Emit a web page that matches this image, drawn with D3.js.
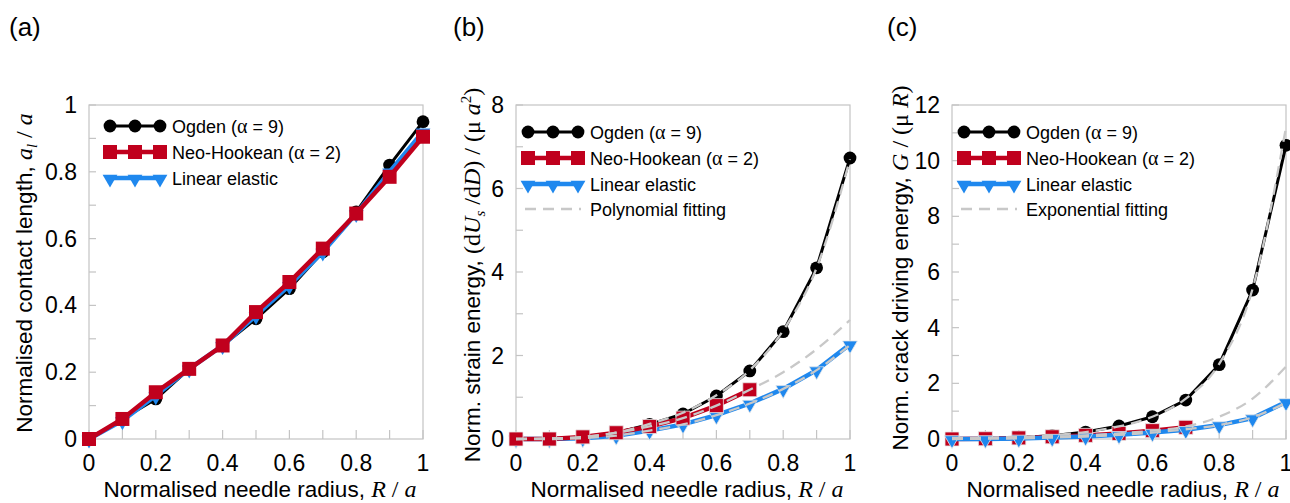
<!DOCTYPE html>
<html><head><meta charset="utf-8">
<script src="https://cdn.jsdelivr.net/npm/d3@7"></script>
<style>
html,body{margin:0;padding:0;background:#fff;}
svg{display:block;font-family:Arial,"Liberation Sans",sans-serif;}
</style></head>
<body><svg id="chart" width="1290" height="503"></svg>
<script>
// ---------- data ----------
const radius = [0,0.1,0.2,0.3,0.4,0.5,0.6,0.7,0.8,0.9,1.0];
const radiusNeo = [0,0.1,0.2,0.3,0.4,0.5,0.6,0.7];

// (a) normalised contact length
const contactOgden  = [0,0.06,0.12,0.21,0.28,0.36,0.45,0.56,0.68,0.82,0.95];
const contactNeo    = [0,0.06,0.14,0.21,0.28,0.38,0.47,0.57,0.675,0.785,0.905];
const contactLinear = [0,0.055,0.13,0.21,0.28,0.37,0.46,0.56,0.675,0.80,0.92];

// (b) normalised strain energy
const strainOgden  = [0,0.0,0.05,0.15,0.35,0.6,1.03,1.63,2.57,4.1,6.73];
const strainNeo    = [0,0.0,0.05,0.15,0.3,0.5,0.8,1.18];
const strainLinear = [0,0,0.02,0.08,0.2,0.35,0.57,0.85,1.2,1.65,2.27];
const strainFitOgden  = [0,0.01,0.05,0.15,0.36,0.63,1.05,1.65,2.6,4.1,6.7];
const strainFitNeo    = [0,0.01,0.05,0.15,0.3,0.5,0.8,1.18,1.6,2.15,2.85];
const strainFitLinear = [0,0,0.02,0.08,0.2,0.35,0.57,0.85,1.2,1.65,2.25];

// (c) normalised crack driving energy
const crackOgden  = [0,0.02,0.05,0.12,0.25,0.47,0.8,1.4,2.67,5.35,10.55];
const crackNeo    = [0,0.01,0.04,0.08,0.13,0.2,0.3,0.42];
const crackLinear = [0,0.0,0.02,0.05,0.09,0.15,0.23,0.33,0.5,0.75,1.33];
const crackFitOgden  = [0.04,0.05,0.08,0.14,0.25,0.45,0.8,1.45,2.7,5.4,11.2];
const crackFitNeo    = [0.02,0.03,0.05,0.08,0.13,0.2,0.3,0.45,0.8,1.45,2.6];
const crackFitLinear = [0,0.01,0.02,0.05,0.09,0.15,0.23,0.35,0.5,0.78,1.3];

const xTicks = [0,0.2,0.4,0.6,0.8,1];
const xMinor = [0,0.1,0.2,0.3,0.4,0.5,0.6,0.7,0.8,0.9,1];
const yTicksA = [0,0.2,0.4,0.6,0.8,1];
const yMinorA = [0,0.1,0.2,0.3,0.4,0.5,0.6,0.7,0.8,0.9,1];
const yTicksB = [0,2,4,6,8];
const yMinorB = [0,1,2,3,4,5,6,7,8];
const yTicksC = [0,2,4,6,8,10,12];
const yMinorC = [0,1,2,3,4,5,6,7,8,9,10,11,12];

const legendNames = ["Ogden (α = 9)","Neo-Hookean (α = 2)","Linear elastic"];
const panelLabels = ["(a)","(b)","(c)"];

// ---------- styles ----------
const C_OGDEN = "#000000", C_NEO = "#c0001d", C_LIN = "#1f88ee", C_FIT = "#c8c8c8", C_FRAME = "#c4c4c4";
const SERIF = "'Liberation Serif','Times New Roman',serif";

const svg = d3.select("#chart");
const Y0 = 105, Y1 = 439;

function zip(xs, ys){ return xs.map((x,i)=>[x, ys[i]]); }

function drawPanel(cfg){
  const x = d3.scaleLinear().domain([0,1]).range([cfg.x0, cfg.x0+334]);
  const y = d3.scaleLinear().domain([0,cfg.ymax]).range([Y1, Y0]);
  const g = svg.append("g");

  g.append("rect").attr("x",x(0)).attr("y",y(cfg.ymax)).attr("width",x(1)-x(0)).attr("height",y(0)-y(cfg.ymax))
    .attr("fill","none").attr("stroke",C_FRAME).attr("stroke-width",1.2);
  g.selectAll(".xt").data(xMinor).join("line")
    .attr("x1",d=>x(d)).attr("x2",d=>x(d)).attr("y1",Y1).attr("y2",Y1-9)
    .attr("stroke",C_FRAME).attr("stroke-width",1.2);
  g.selectAll(".yt").data(cfg.yMinor).join("line")
    .attr("x1",x(0)).attr("x2",x(0)+7).attr("y1",d=>y(d)).attr("y2",d=>y(d))
    .attr("stroke",C_FRAME).attr("stroke-width",1.2);
  const fmt = d=> (d===0?"0":String(d));
  g.selectAll(".xl").data(xTicks).join("text")
    .attr("x",d=>x(d)).attr("y",471).attr("text-anchor","middle")
    .attr("font-size",23).attr("fill","#000").text(fmt);
  g.selectAll(".yl").data(cfg.yTicks).join("text")
    .attr("x",x(0)-12).attr("y",d=>y(d)+8).attr("text-anchor","end")
    .attr("font-size",23).attr("fill","#000").text(fmt);

  const xt = g.append("text").attr("x",(x(0)+x(1))/2+4).attr("y",497).attr("text-anchor","middle").attr("font-size",22.5);
  xt.append("tspan").text("Normalised needle radius, ");
  xt.append("tspan").attr("font-family",SERIF).attr("font-style","italic").attr("font-size",24).text("R");
  xt.append("tspan").attr("font-family",SERIF).attr("font-size",24).text(" / ");
  xt.append("tspan").attr("font-family",SERIF).attr("font-style","italic").attr("font-size",24).text("a");

  const yt = g.append("text").attr("transform",`translate(${cfg.ytx},${cfg.yty}) rotate(-90)`)
    .attr("text-anchor","middle").attr("font-size",22.5);
  cfg.yTitle(yt);

  svg.append("text").attr("x",cfg.lx).attr("y",36).attr("font-size",26).text(cfg.label);

  const line = d3.line().x(d=>x(d[0])).y(d=>y(d[1]));
  const smooth = d3.line().x(d=>x(d[0])).y(d=>y(d[1])).curve(d3.curveMonotoneX);
  const sq = d3.symbol().type(d3.symbolSquare).size(196);
  const tri = d3.symbol().type(d3.symbolTriangle).size(95);

  const series = {
    ogden: ()=>{
      g.append("path").attr("d",line(cfg.ogden)).attr("fill","none").attr("stroke",C_OGDEN).attr("stroke-width",3);
      g.selectAll(".co").data(cfg.ogden).join("circle").attr("cx",d=>x(d[0])).attr("cy",d=>y(d[1])).attr("r",6.4).attr("fill",C_OGDEN);
    },
    neo: ()=>{
      g.append("path").attr("d",line(cfg.neo)).attr("fill","none").attr("stroke",C_NEO).attr("stroke-width",4.5);
      g.selectAll(".cn").data(cfg.neo).join("path").attr("d",sq).attr("transform",d=>`translate(${x(d[0])},${y(d[1])})`)
        .attr("fill",C_NEO).attr("stroke",cfg.mstroke||"none").attr("stroke-width",0.8);
    },
    lin: ()=>{
      g.append("path").attr("d",line(cfg.lin)).attr("fill","none").attr("stroke",C_LIN).attr("stroke-width",4.5);
      g.selectAll(".cl").data(cfg.lin).join("path").attr("d",tri).attr("transform",d=>`translate(${x(d[0])},${y(d[1])+1}) rotate(180)`)
        .attr("fill",C_LIN).attr("stroke",cfg.mstroke||"none").attr("stroke-width",0.8);
    }
  };
  cfg.order.forEach(k=>series[k]());

  if (cfg.fits){
    cfg.fits.forEach(f=>{
      g.append("path").attr("d",smooth(f)).attr("fill","none").attr("stroke",C_FIT)
        .attr("stroke-width",2.3).attr("stroke-dasharray","11,7");
    });
  }

  const lg = g.append("g");
  const lx0 = cfg.legX, lx1 = cfg.legX+50, tx = cfg.legX+62;
  const rows = cfg.legRows;
  lg.append("line").attr("x1",lx0).attr("x2",lx1).attr("y1",rows[0]).attr("y2",rows[0]).attr("stroke",C_OGDEN).attr("stroke-width",3);
  [lx0,(lx0+lx1)/2,lx1].forEach(px=>lg.append("circle").attr("cx",px).attr("cy",rows[0]).attr("r",6.4).attr("fill",C_OGDEN));
  lg.append("line").attr("x1",lx0).attr("x2",lx1).attr("y1",rows[1]).attr("y2",rows[1]).attr("stroke",C_NEO).attr("stroke-width",4.5);
  [lx0,(lx0+lx1)/2,lx1].forEach(px=>lg.append("path").attr("d",sq).attr("transform",`translate(${px},${rows[1]})`).attr("fill",C_NEO));
  lg.append("line").attr("x1",lx0).attr("x2",lx1).attr("y1",rows[2]).attr("y2",rows[2]).attr("stroke",C_LIN).attr("stroke-width",4.5);
  [lx0,(lx0+lx1)/2,lx1].forEach(px=>lg.append("path").attr("d",tri).attr("transform",`translate(${px},${rows[2]+1}) rotate(180)`).attr("fill",C_LIN));
  const names = legendNames.slice();
  if (cfg.fitName){
    lg.append("line").attr("x1",lx0-3).attr("x2",lx1+3).attr("y1",rows[3]).attr("y2",rows[3]).attr("stroke",C_FIT)
      .attr("stroke-width",2.3).attr("stroke-dasharray","11,7");
    names.push(cfg.fitName);
  }
  names.forEach((n,i)=>{
    const t = lg.append("text").attr("x",tx).attr("y",rows[i]+6.5).attr("font-size",18);
    const parts = n.split("α");
    t.append("tspan").text(parts[0]);
    if (parts.length>1){
      t.append("tspan").attr("font-family",SERIF).attr("font-size",20).text("α");
      t.append("tspan").text(parts[1]);
    }
  });
}

drawPanel({
  x0:89, ymax:1, yTicks:yTicksA, yMinor:yMinorA, label:panelLabels[0], lx:9,
  ytx:32, yty:273,
  yTitle: t=>{
    t.append("tspan").text("Normalised contact length, ");
    t.append("tspan").attr("font-family",SERIF).attr("font-style","italic").attr("font-size",24).text("a");
    t.append("tspan").attr("font-family",SERIF).attr("font-style","italic").attr("font-size",15).attr("dy",5).text("l");
    t.append("tspan").attr("font-family",SERIF).attr("font-size",24).attr("dy",-5).text(" / ");
    t.append("tspan").attr("font-family",SERIF).attr("font-style","italic").attr("font-size",24).text("a");
  },
  ogden: zip(radius,contactOgden), neo: zip(radius,contactNeo), lin: zip(radius,contactLinear),
  order:["ogden","lin","neo"],
  legX:110, legRows:[126,152,178]
});

drawPanel({
  x0:516, ymax:8, yTicks:yTicksB, yMinor:yMinorB, label:panelLabels[1], lx:453,
  ytx:480, yty:275,
  yTitle: t=>{
    t.append("tspan").text("Norm. strain energy, ");
    t.append("tspan").attr("font-family",SERIF).attr("font-size",24).text("(d");
    t.append("tspan").attr("font-family",SERIF).attr("font-style","italic").attr("font-size",24).text("U");
    t.append("tspan").attr("font-family",SERIF).attr("font-style","italic").attr("font-size",15).attr("dy",5).text("s");
    t.append("tspan").attr("font-family",SERIF).attr("font-size",24).attr("dy",-5).text(" /d");
    t.append("tspan").attr("font-family",SERIF).attr("font-style","italic").attr("font-size",24).text("D");
    t.append("tspan").attr("font-family",SERIF).attr("font-size",24).text(") / (μ ");
    t.append("tspan").attr("font-family",SERIF).attr("font-style","italic").attr("font-size",24).text("a");
    t.append("tspan").attr("font-family",SERIF).attr("font-size",15).attr("dy",-9).text("2");
    t.append("tspan").attr("font-family",SERIF).attr("font-size",24).attr("dy",9).text(")");
  },
  ogden: zip(radius,strainOgden), neo: zip(radiusNeo,strainNeo), lin: zip(radius,strainLinear),
  order:["ogden","lin","neo"], mstroke:"#e8e8e8",
  fits:[zip(radius,strainFitOgden), zip(radius,strainFitNeo), zip(radius,strainFitLinear)],
  fitName:"Polynomial fitting",
  legX:528, legRows:[132,158,184,209]
});

drawPanel({
  x0:952, ymax:12, yTicks:yTicksC, yMinor:yMinorC, label:panelLabels[2], lx:887,
  ytx:908, yty:268,
  yTitle: t=>{
    t.append("tspan").text("Norm. crack driving energy, ");
    t.append("tspan").attr("font-family",SERIF).attr("font-style","italic").attr("font-size",24).text("G");
    t.append("tspan").attr("font-family",SERIF).attr("font-size",24).text(" / (μ ");
    t.append("tspan").attr("font-family",SERIF).attr("font-style","italic").attr("font-size",24).text("R");
    t.append("tspan").attr("font-family",SERIF).attr("font-size",24).text(")");
  },
  ogden: zip(radius,crackOgden), neo: zip(radiusNeo,crackNeo), lin: zip(radius,crackLinear),
  order:["ogden","neo","lin"], mstroke:"#e8e8e8",
  fits:[zip(radius,crackFitOgden), zip(radius,crackFitNeo), zip(radius,crackFitLinear)],
  fitName:"Exponential fitting",
  legX:964, legRows:[132,158,184,209]
});
</script>
</body></html>
